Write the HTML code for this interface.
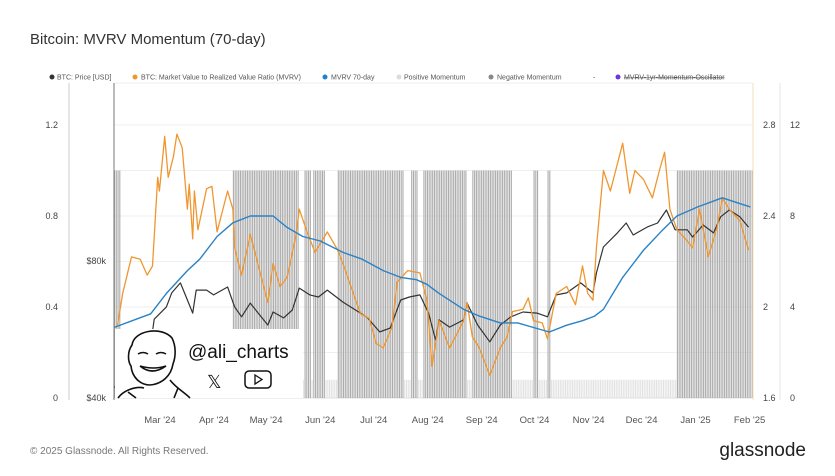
<!DOCTYPE html>
<html><head><meta charset="utf-8"><style>
body{margin:0;background:#fff;width:835px;height:476px;overflow:hidden;font-family:"Liberation Sans",sans-serif}
svg{display:block}
</style></head><body>
<svg id="c" width="835" height="476" viewBox="0 0 835 476">
<text x="30" y="44" font-size="15" fill="#333">Bitcoin: MVRV Momentum (70-day)</text>
<g font-size="7" fill="#555">
 <g><circle cx="52" cy="77" r="2.5" fill="#333"/><text x="57" y="79.5">BTC: Price [USD]</text></g>
 <g><circle cx="135" cy="77" r="2.5" fill="#f0962f"/><text x="141" y="79.5">BTC: Market Value to Realized Value Ratio (MVRV)</text></g>
 <g><circle cx="325" cy="77" r="2.5" fill="#1f82d0"/><text x="331" y="79.5">MVRV 70-day</text></g>
 <g><circle cx="399" cy="77" r="2.5" fill="#ddd"/><text x="404" y="79.5">Positive Momentum</text></g>
 <g><circle cx="491" cy="77" r="2.5" fill="#888"/><text x="497" y="79.5">Negative Momentum</text></g>
 <text x="593" y="79.5">-</text>
 <g><circle cx="618" cy="77" r="2.5" fill="#6a35e0"/><text x="624" y="79.5" text-decoration="line-through">MVRV-1yr-Momentum-Oscillator</text></g>
</g>
<line x1="114" y1="83" x2="752" y2="83" stroke="#eee"/>
<g id="grid"></g>
<g id="bars"></g>
<g id="lines"></g>
<line x1="69" y1="83" x2="69" y2="400" stroke="#ccc"/>
<line x1="114" y1="83" x2="114" y2="400" stroke="#777"/>
<line x1="753" y1="83" x2="753" y2="400" stroke="#f6dcb8"/>
<line x1="780" y1="83" x2="780" y2="400" stroke="#e6e6e6"/>
<g id="axes" font-size="9" fill="#444"></g>
<g>
 <rect x="115" y="329" width="188" height="69" fill="#fff"/>
 <g fill="none" stroke="#111" stroke-width="1.6">
  <path d="M132 345 C134 330 162 326 172 338 C176 346 176 356 173 364 C171 376 162 384 150 385 C140 385 132 377 131 366 C128 362 127 352 132 345 Z"/>
  <path d="M138 354 q5 -3 10 0 M156 354 q5 -3 10 0"/>
  <path d="M140 366 q12 10 26 0 q-12 4 -26 0"/>
  <path d="M118 398 C124 390 136 386 144 388 M170 380 C176 388 184 392 190 398"/>
  <path d="M128 392 l8 6 M178 388 l-4 10"/>
 </g>
 <text x="188" y="358" font-size="19" fill="#111">@ali_charts</text>
 <text x="207" y="388" font-size="18" fill="#111">𝕏</text>
 <g><rect x="245" y="371" width="26" height="17" rx="4" fill="none" stroke="#111" stroke-width="1.5"/><path d="M255 375 l7 4.5 -7 4.5 z" fill="none" stroke="#111" stroke-width="1.3"/></g>
</g>
<g id="xt" font-size="9.5" fill="#555" text-anchor="middle"></g>
<text x="30" y="454" font-size="10" fill="#777">© 2025 Glassnode. All Rights Reserved.</text>
<text x="806" y="456" font-size="19" fill="#222" text-anchor="end">glassnode</text>
</svg>
<script>
const mvrvDays=[2,5,10,15,19,22,25,26,29,31,34,36,39,42,43,45,46,48,53,56,59,65,68,69,73,78,82,88,91,95,99,104,106,110,115,122,128,131,141,146,150,154,159,162,168,175,179,182,186,192,200,202,205,209,215,221,225,228,234,237,240,245,248,253,259,264,268,271,274,276,280,284,291,295,298,303,308,312,315,318,322,328,331,335,340,345,348,352,358,363];
const mvrvVals=[1.92,2.06,2.22,2.21,2.14,2.18,2.57,2.51,2.75,2.57,2.66,2.76,2.70,2.43,2.54,2.30,2.51,2.34,2.52,2.53,2.33,2.51,2.43,2.26,2.14,2.32,2.20,2.02,2.19,2.09,2.13,2.31,2.43,2.34,2.24,2.33,2.25,2.19,1.97,1.95,1.84,1.82,1.91,2.11,2.16,2.15,2.03,1.74,1.94,1.82,1.94,2.02,1.87,1.82,1.70,1.82,1.87,1.98,1.99,2.04,1.94,1.93,1.86,2.06,2.09,2.01,2.18,2.06,2.03,2.26,2.60,2.51,2.72,2.50,2.60,2.56,2.48,2.60,2.68,2.43,2.34,2.29,2.26,2.43,2.22,2.35,2.48,2.43,2.38,2.25];
const ma70Days=[0,21,30,42,49,59,68,78,91,99,108,118,131,142,154,164,173,179,186,200,209,221,231,240,249,259,268,275,280,291,303,314,322,334,348,356,364];
const ma70Vals=[1.91,1.97,2.06,2.16,2.21,2.31,2.37,2.40,2.40,2.35,2.31,2.29,2.24,2.21,2.16,2.13,2.12,2.10,2.06,1.99,1.96,1.93,1.93,1.91,1.89,1.92,1.94,1.96,1.99,2.13,2.25,2.34,2.40,2.44,2.48,2.46,2.44];
const priceDays=[0,12,20,23,30,33,38,42,45,47,53,57,65,69,73,78,82,88,91,97,102,106,112,117,122,131,141,145,152,158,164,169,175,180,184,186,192,200,202,208,215,221,227,234,242,248,253,259,267,274,276,280,288,293,297,305,311,316,321,328,331,337,343,347,352,358,363];
const priceK=[43,49,52,63,66.6,70.7,73.6,68.6,64.8,71.5,71.5,70.1,72.4,66.6,63.7,67.7,65.1,61.3,65.1,63.4,65.7,72.1,70.1,69.5,71.5,68.0,64.8,63.4,59.3,60.4,68.6,69.5,70.1,64.8,56.9,62.8,60.7,62.8,67.7,61.3,56.4,61.3,63.7,65.1,64.8,63.7,70.1,70.7,73.6,70.7,76.5,84.1,88.2,91.1,87.6,89.9,91.1,94.9,89.1,89.1,87.0,90.5,88.2,92.9,94.9,92.9,89.9];
const negRanges=[[0,3],[68,105],[109,112],[114,120],[128,165],[170,173],[177,201],[205,227],[240,242],[248,249],[322,365]];
const xTickLabels=["Mar '24","Apr '24","May '24","Jun '24","Jul '24","Aug '24","Sep '24","Oct '24","Nov '24","Dec '24","Jan '25","Feb '25"];
const xTickDays=[26.3,57.2,87,118,148.6,179.5,210.4,240.6,271.5,301.8,332.7,363.6];
const leftTicks=["0","0.4","0.8","1.2"];
const leftTickVals=[0,0.4,0.8,1.2];
const priceTicks=["$40k","$80k"];
const priceTickVals=[40,80];
const mvrvTicks=["1.6","2","2.4","2.8"];
const mvrvTickVals=[1.6,2,2.4,2.8];
const oscTicks=["0","4","8","12"];
const oscTickVals=[0,4,8,12];

const NS="http://www.w3.org/2000/svg";
const xDay=d=>114+d*1.748;
const yR=v=>398-(v-1.6)*227.5;
const yP=k=>398-(k-40)*3.425;
const yL=v=>398-v*227.5;
const yO=v=>398-v*22.75;
function mk(t,a,p){const e=document.createElementNS(NS,t);for(const k in a)e.setAttribute(k,a[k]);p.appendChild(e);return e;}

const grid=document.getElementById('grid');
for(let i=0;i<=6;i++){const g=mk('line',{x1:114,x2:752,y1:398-45.5*i,y2:398-45.5*i,stroke:i?'#efefef':'#ddd'},grid);

}

const bars=document.getElementById('bars');
const isNeg=d=>negRanges.some(r=>d>=r[0]&&d<=r[1]);
for(let d=0;d<=365;d++){
 const neg=isNeg(d);
 const b=mk('rect',{x:xDay(d),width:1.1,y:neg?yL(1.0):yL(0.08),height:neg?yL(0)-yL(1.0):yL(0)-yL(0.08),fill:neg?'#ababab':'#e2e2e2'},bars);
 
 
}

const lines=document.getElementById('lines');
function line(days,vals,fy,col,w,name){
 const p=mk('polyline',{points:days.map((d,i)=>xDay(d).toFixed(1)+','+fy(vals[i]).toFixed(1)).join(' '),fill:'none',stroke:col,'stroke-width':w,'stroke-linejoin':'round'},lines);
 
 
}
line(priceDays,priceK,yP,'#333',1.2,'price-line');
line(mvrvDays,mvrvVals,yR,'#f0962f',1.3,'mvrv-line');
line(ma70Days,ma70Vals,yR,'#2a82c6',1.4,'mvrv-70day-line');

const axes=document.getElementById('axes');
function lab(x,y,t,anchor,name){const e=mk('text',{x:x,y:y+3,'text-anchor':anchor},axes);e.textContent=t;

}
leftTicks.forEach((t,i)=>lab(58,yL(leftTickVals[i]),t,'end','left-tick-label'));
priceTicks.forEach((t,i)=>lab(106,yP(priceTickVals[i]),t,'end','price-tick-label'));
mvrvTicks.forEach((t,i)=>lab(763,yR(mvrvTickVals[i]),t,'start','mvrv-tick-label'));
oscTicks.forEach((t,i)=>lab(790,yO(oscTickVals[i]),t,'start','osc-tick-label'));

const xt=document.getElementById('xt');
xTickLabels.forEach((t,i)=>{const e=mk('text',{x:xDay(xTickDays[i]),y:423},xt);e.textContent=t;

});
</script>
</body></html>
